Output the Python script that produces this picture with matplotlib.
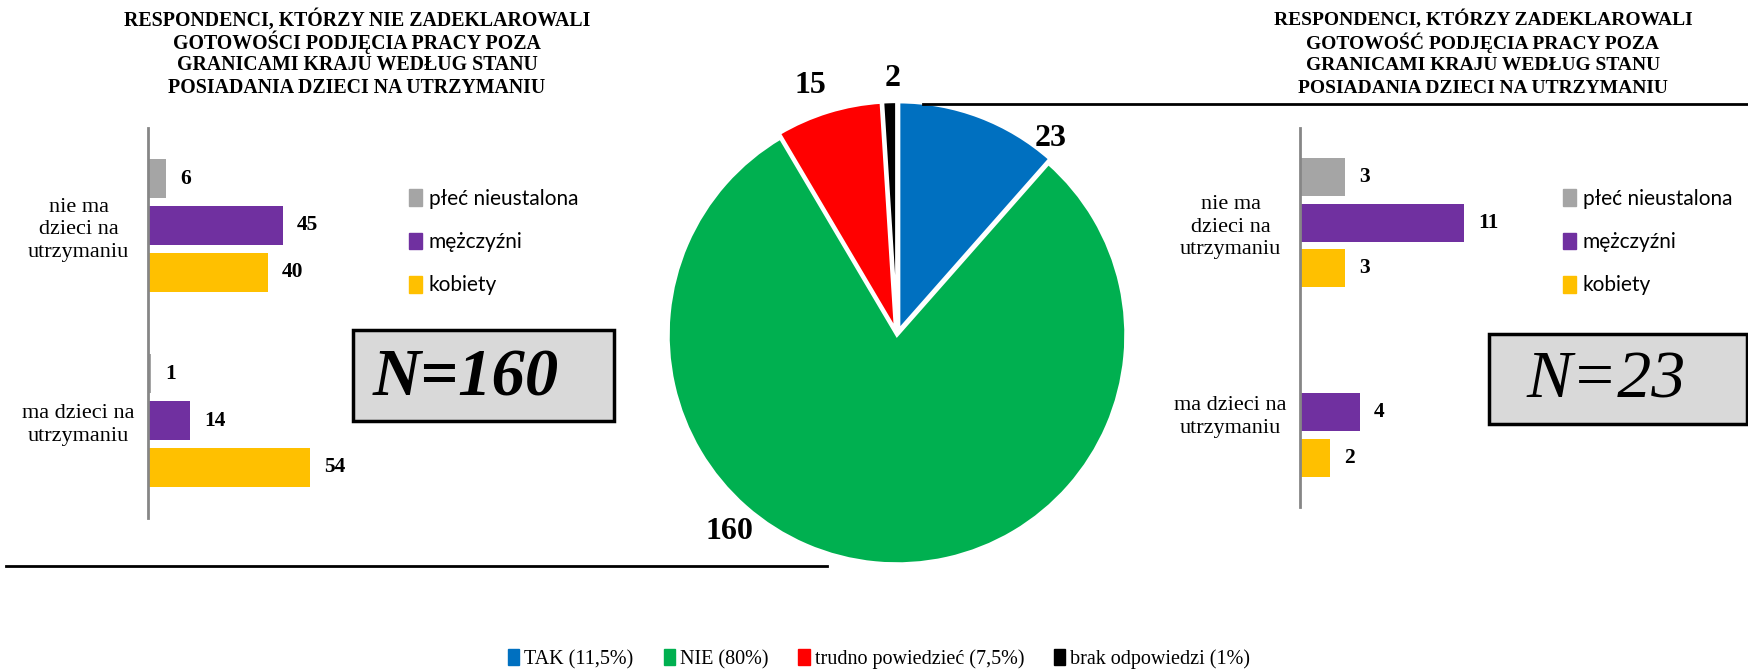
import matplotlib.pyplot as plt
import numpy as np
from matplotlib.patches import Rectangle, Patch
from matplotlib.lines import Line2D

# pie: all respondents
pie_labels = ['TAK (11,5%)', 'NIE (80%)', 'trudno powiedzieć (7,5%)', 'brak odpowiedzi (1%)']
pie_values = [23, 160, 15, 2]
pie_colors = ['#0070C0', '#00B050', '#FF0000', '#000000']

# bar charts by children status
categories = ['nie ma\ndzieci na\nutrzymaniu', 'ma dzieci na\nutrzymaniu']
series = ['płeć nieustalona', 'mężczyźni', 'kobiety']
series_colors = ['#A5A5A5', '#7030A0', '#FFC000']

left_plec = [6, 1]
left_men = [45, 14]
left_women = [40, 54]

right_plec = [3, 0]
right_men = [11, 4]
right_women = [3, 2]

title_left = ['RESPONDENCI, KTÓRZY NIE ZADEKLAROWALI', 'GOTOWOŚCI PODJĘCIA PRACY POZA',
              'GRANICAMI KRAJU WEDŁUG STANU', 'POSIADANIA DZIECI NA UTRZYMANIU']
title_right = ['RESPONDENCI, KTÓRZY ZADEKLAROWALI', 'GOTOWOŚĆ PODJĘCIA PRACY POZA',
               'GRANICAMI KRAJU WEDŁUG STANU', 'POSIADANIA DZIECI NA UTRZYMANIU']

W, H = 1748, 671
SERIF = 'Liberation Serif'
SANS = 'Lato'


def box(x0, y0, x1, y1):
    return [x0 / W, 1 - y1 / H, (x1 - x0) / W, (y1 - y0) / H]


fig = plt.figure(figsize=(W / 100, H / 100), dpi=100)


def bar_panel(rect, xmax, vals, legend_xy):
    ax = fig.add_axes(rect)
    y = np.arange(len(categories))
    offs = [-0.24, 0, 0.24]
    for k, (v, c) in enumerate(zip(vals, series_colors)):
        v = np.array(v, dtype=float)
        bars = ax.barh(y + offs[k], v, height=0.2, color=c, label=series[k])
        for b, val in zip(bars, v):
            if val > 0:
                ax.annotate(f'{int(val)}', (b.get_width(), b.get_y() + b.get_height() / 2),
                            xytext=(10, 0), textcoords='offset points', ha='left', va='center',
                            fontsize=15.5, fontweight='bold', family=SERIF)
    ax.set_xlim(0, xmax)
    ax.set_ylim(1.5, -0.5)
    ax.set_yticks(y)
    ax.set_yticklabels(categories, fontsize=16, family=SERIF, ha='center', ma='center',
                       linespacing=1.27)
    ax.tick_params(axis='y', length=0, pad=50)
    ax.set_xticks([])
    for s in ['top', 'right', 'bottom']:
        ax.spines[s].set_visible(False)
    ax.spines['left'].set_color('#868686')
    ax.spines['left'].set_linewidth(2)
    ax.patch.set_alpha(0)
    handles = [Patch(color=c) for c in series_colors]
    fig.legend(handles, series, loc='upper left', bbox_to_anchor=legend_xy, frameon=False,
               prop={'family': SANS, 'size': 15}, handlelength=0.62, handleheight=0.85,
               handletextpad=0.35, labelspacing=1.12)
    return ax


bar_panel(box(148, 128, 448, 518), 100, [left_plec, left_men, left_women],
          (390 / W, 1 - 170 / H))
bar_panel(box(1300, 128, 1599, 507), 20, [right_plec, right_men, right_women],
          (1544 / W, 1 - 170 / H))

# titles, one line at a time so accents don't skew the spacing
for i, (a, b) in enumerate(zip(title_left, title_right)):
    ty = 1 - (20 + 22.7 * i) / H
    fig.text(357 / W, ty, a, ha='center', va='center', fontsize=14.3,
             fontweight='bold', family=SERIF)
    fig.text(1483 / W, ty, b, ha='center', va='center', fontsize=14,
             fontweight='bold', family=SERIF)

# pie
r = 229
axp = fig.add_axes(box(897 - 1.15 * r, 335 - 1.15 * r, 897 + 1.15 * r, 335 + 1.15 * r))
wedges, _ = axp.pie(pie_values, colors=pie_colors, startangle=90, counterclock=False,
                    explode=[0.02, 0, 0.02, 0.02],
                    wedgeprops={'edgecolor': 'white', 'linewidth': 2.5})
axp.set_xlim(-1.15, 1.15)
axp.set_ylim(-1.15, 1.15)
label_pos = [(0.67, 0.86), (-0.73, -0.86), (-0.38, 1.09), (-0.02, 1.12)]
for (lx, ly), v in zip(label_pos, pie_values):
    axp.text(lx, ly, str(v), ha='center', va='center', fontsize=23, fontweight='bold',
             family=SERIF)

fig.legend([Patch(color=c) for c in pie_colors], pie_labels, loc='center',
           bbox_to_anchor=(0.503, 1 - 659 / H), ncol=4, frameon=False,
           prop={'family': SERIF, 'size': 14.5}, handlelength=0.55, handleheight=0.85,
           handletextpad=0.25, columnspacing=1.5)

# N boxes
fig.add_artist(Rectangle((353 / W, 1 - 421 / H), 261 / W, 91 / H, transform=fig.transFigure,
                         facecolor='#D9D9D9', edgecolor='black', linewidth=2.5))
fig.text(466 / W, 1 - 379 / H, 'N=160', ha='center', va='center', fontsize=48,
         fontweight='bold', style='italic', family=SERIF)
fig.add_artist(Rectangle((1489 / W, 1 - 424 / H), 258 / W, 90 / H, transform=fig.transFigure,
                         facecolor='#D9D9D9', edgecolor='black', linewidth=2.5))
fig.text(1606 / W, 1 - 381 / H, 'N=23', ha='center', va='center', fontsize=49,
         style='italic', family=SERIF)

# horizontal rules
fig.add_artist(Line2D([6 / W, 827 / W], [1 - 566 / H] * 2, transform=fig.transFigure,
                      color='black', linewidth=2))
fig.add_artist(Line2D([923 / W, 1748 / W], [1 - 104 / H] * 2, transform=fig.transFigure,
                      color='black', linewidth=2))

fig.savefig('out.png', dpi=100)
